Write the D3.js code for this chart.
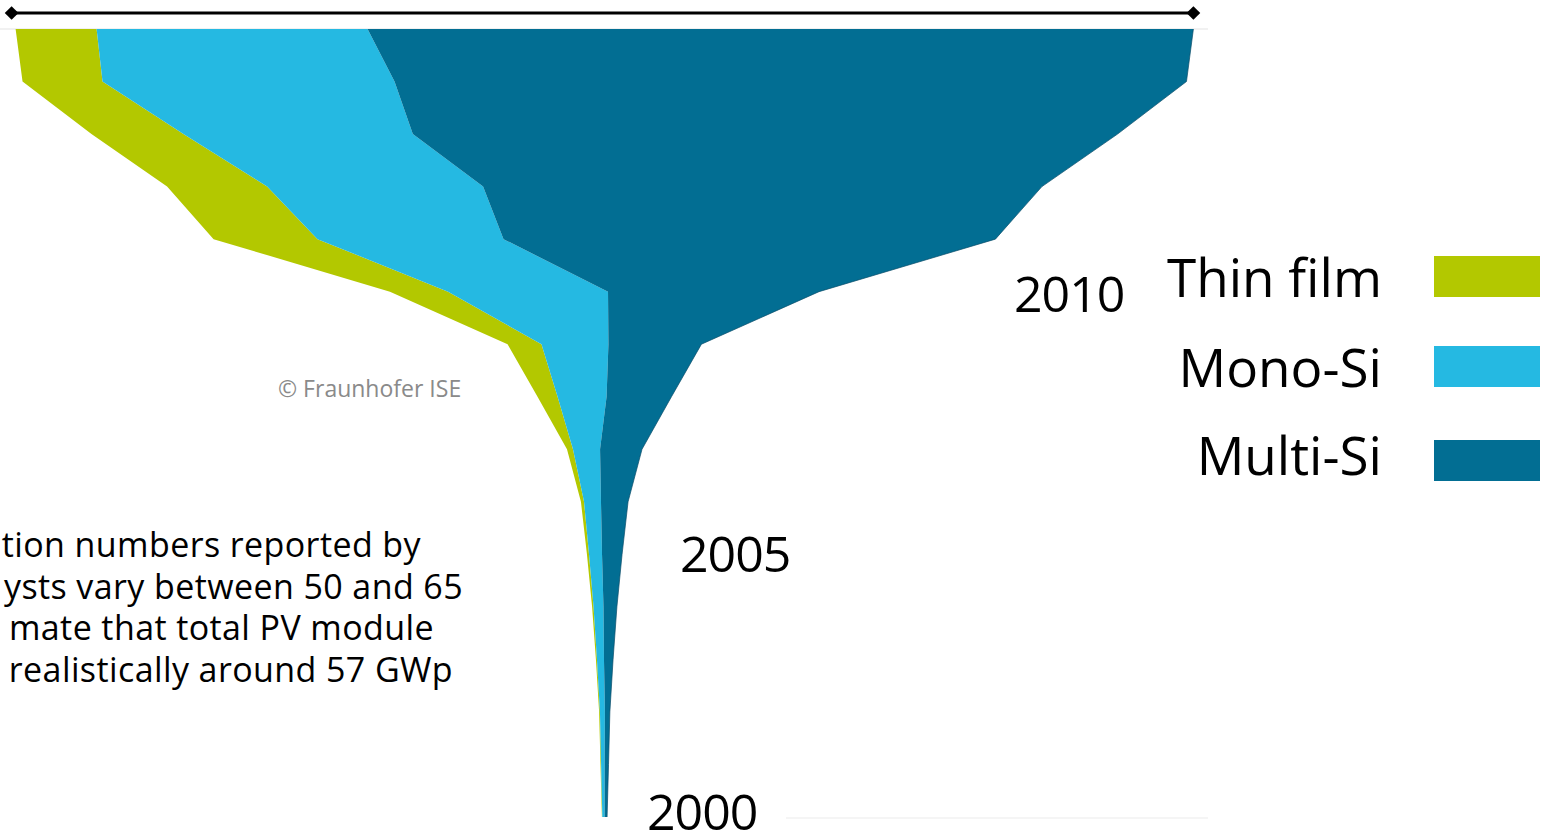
<!DOCTYPE html>
<html>
<head>
<meta charset="utf-8">
<script src="https://cdn.jsdelivr.net/npm/d3@7"></script>
<style>
  html, body { margin: 0; padding: 0; background: #ffffff; }
  svg { display: block; }
  text { font-family: "Open Sans", "Noto Sans", sans-serif; }
</style>
</head>
<body>
<svg id="chart" width="1544" height="835"></svg>
<script>
// ---- data (GWp per year) ----
const years   = [2000, 2001, 2002, 2003, 2004, 2005, 2006, 2007, 2008, 2009, 2010, 2011, 2012, 2013, 2014, 2015];
const thinFilm = [0.02, 0.03, 0.04, 0.05, 0.07, 0.10, 0.15, 0.29, 0.97, 1.64, 2.81, 5.03, 4.84, 4.45, 3.87, 3.92];
const monoSi   = [0.11, 0.17, 0.24, 0.34, 0.48, 0.63, 0.82, 1.31, 2.37, 3.24, 7.74, 9.00, 10.45, 11.10, 14.13, 13.11];
const multiSi  = [0.12, 0.19, 0.24, 0.44, 0.65, 0.97, 1.31, 2.03, 3.14, 4.50, 10.21, 23.80, 27.04, 34.10, 38.32, 39.96];
const seriesKeys   = ["thin", "mono", "multi"];
const legendLabels = ["Thin film", "Mono-Si", "Multi-Si"];
const yearLabels   = [2010, 2005, 2000];
const noteLines = [
  "tion numbers reported by",
  "ysts vary between 50 and 65",
  "mate that total PV module",
  "realistically around 57 GWp"
];
const copyright = "© Fraunhofer ISE";

// ---- styles ----
const colors = { thin: "#b3c800", mono: "#25b9e2", multi: "#026e93" };

const table = years.map((yr, i) => ({ year: yr, thin: thinFilm[i], mono: monoSi[i], multi: multiSi[i] }));

const svg = d3.select("#chart");

const cx = 604.5;
const x = d3.scaleLinear().domain([-30, 30]).range([cx - 620, cx + 620]);
const y = d3.scaleLinear().domain([2000, 2015]).range([817, 29]);

const stack = d3.stack().keys(seriesKeys).offset(d3.stackOffsetSilhouette);
const layers = stack(table);

// faint frame lines
svg.append("line").attr("x1", 0).attr("x2", 1208)
  .attr("y1", y(2015)).attr("y2", y(2015))
  .attr("stroke", "#ececec").attr("stroke-width", 1.5);
svg.append("line").attr("x1", 786).attr("x2", 1208)
  .attr("y1", y(2000) + 1).attr("y2", y(2000) + 1)
  .attr("stroke", "#f2f2f2").attr("stroke-width", 1.5);

const area = d3.area()
  .y(d => y(d.data.year))
  .x0(d => x(d[0]))
  .x1(d => x(d[1]));

svg.append("g").selectAll("path")
  .data(layers)
  .join("path")
  .attr("d", area)
  .attr("fill", d => colors[d.key]);

// subtle darker outline along the right edge
const multiLayer = layers[layers.length - 1];
svg.append("path")
  .datum(multiLayer)
  .attr("d", d3.line().x(d => x(d[1])).y(d => y(d.data.year)))
  .attr("fill", "none")
  .attr("stroke", "#0b4d69")
  .attr("stroke-width", 1)
  .attr("stroke-opacity", 0.7);

// top width marker line with diamonds
const topRow = multiLayer[multiLayer.length - 1];
const topLeft = x(layers[0][layers[0].length - 1][0]) - 4;
const topRight = x(topRow[1]);
svg.append("line")
  .attr("x1", topLeft).attr("x2", topRight)
  .attr("y1", 13).attr("y2", 13)
  .attr("stroke", "#000").attr("stroke-width", 3);
svg.selectAll("path.diamond")
  .data([topLeft, topRight])
  .join("path")
  .attr("class", "diamond")
  .attr("d", d3.symbol().type(d3.symbolDiamond2).size(120))
  .attr("transform", d => `translate(${d},13)`)
  .attr("fill", "#000");

// year labels
const yearLabelX = { 2010: 1014, 2005: 680, 2000: 647 };
const yearLabelBase = { 2010: 312, 2005: 572, 2000: 830 };
svg.selectAll("text.year")
  .data(yearLabels)
  .join("text")
  .attr("class", "year")
  .attr("x", d => yearLabelX[d])
  .attr("y", d => yearLabelBase[d])
  .attr("font-size", 50)
  .attr("letter-spacing", -1)
  .attr("fill", "#000")
  .text(d => d);

// legend
const legendBase = [297, 387, 475];
const swatchTop = [256, 346, 440];
const lg = svg.append("g");
lg.selectAll("text")
  .data(legendLabels)
  .join("text")
  .attr("x", 1382)
  .attr("y", (d, i) => legendBase[i])
  .attr("text-anchor", "end")
  .attr("font-size", 53)
  .attr("fill", "#000")
  .text(d => d);
lg.selectAll("rect")
  .data(seriesKeys)
  .join("rect")
  .attr("x", 1434)
  .attr("y", (d, i) => swatchTop[i])
  .attr("width", 106)
  .attr("height", 41)
  .attr("fill", d => colors[d]);

// copyright
svg.append("text")
  .attr("x", 278).attr("y", 397)
  .attr("font-size", 23)
  .attr("fill", "#8a8a8a")
  .text(copyright);

// note text (clipped at left edge)
const noteRight = [421, 463, 434, 453];
svg.selectAll("text.note")
  .data(noteLines)
  .join("text")
  .attr("class", "note")
  .attr("x", (d, i) => noteRight[i])
  .attr("y", (d, i) => 557 + i * 41.7)
  .attr("text-anchor", "end")
  .attr("font-size", 34)
  .attr("letter-spacing", 0.4)
  .attr("fill", "#000")
  .text(d => d);
</script>
</body>
</html>
